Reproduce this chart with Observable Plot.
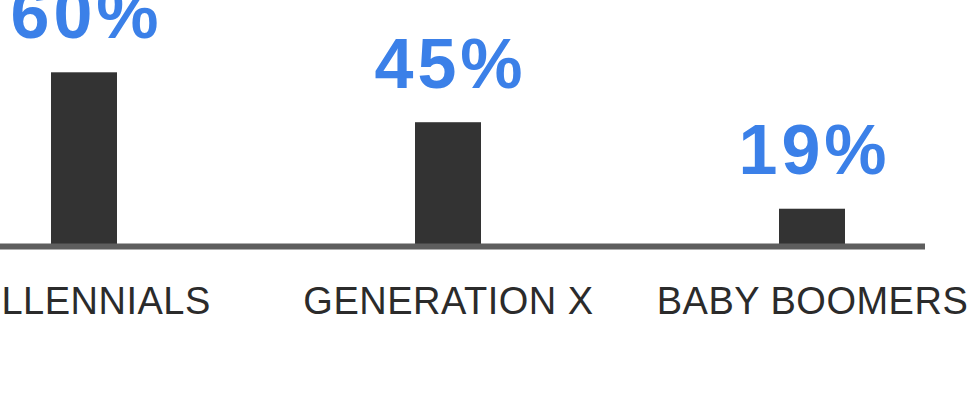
<!DOCTYPE html>
<html>
<head>
<meta charset="utf-8">
<script src="https://cdn.jsdelivr.net/npm/d3@7"></script>
<script src="https://cdn.jsdelivr.net/npm/@observablehq/plot@0.6"></script>
<style>
  html, body { margin: 0; padding: 0; background: #fff; overflow: hidden; }
  #chart { width: 972px; height: 401px; overflow: hidden; }
  #chart g[aria-label="text"] text { letter-spacing: 4px; }
  #chart g[aria-label="x-axis tick label"] text { letter-spacing: 0.5px; }
</style>
</head>
<body>
<div id="chart"></div>
<script>
const categories = ["MILLENNIALS", "GENERATION X", "BABY BOOMERS"];
const values = [60, 45, 19];
const valueLabels = ["60%", "45%", "19%"];

const data = categories.map((c, i) => ({category: c, value: values[i], label: valueLabels[i]}));

const yMin = 7.8; // value at which the baseline rule sits (chart's visible bottom)
const yMax = 60;

const chart = Plot.plot({
  width: 972,
  height: 401,
  marginTop: 72.3,
  marginBottom: 155,
  marginLeft: 0,
  marginRight: 47,
  style: {fontFamily: "'Liberation Sans', Arial, sans-serif", background: "#fff"},
  x: {domain: categories, range: [-99.5, 995.5], paddingInner: 0.819, paddingOuter: 0.41, axis: null},
  y: {domain: [yMin, yMax], axis: null},
  marks: [
    Plot.rectY(data, {x: "category", y1: () => yMin, y2: "value", fill: "#333333"}),
    Plot.ruleY([yMin], {stroke: "#5e5e5e", strokeWidth: 6}),
    Plot.text(data, {
      x: "category", y: "value", text: "label",
      lineAnchor: "bottom", dy: -35, dx: 2,
      fill: "#3b80e8", fontSize: 70, fontWeight: "bold"
    }),
    Plot.axisX({
      tickSize: 0, tickPadding: 41, fontSize: 38, fill: "#2b2b2b", label: null
    })
  ]
});
document.getElementById("chart").appendChild(chart);
</script>
</body>
</html>
